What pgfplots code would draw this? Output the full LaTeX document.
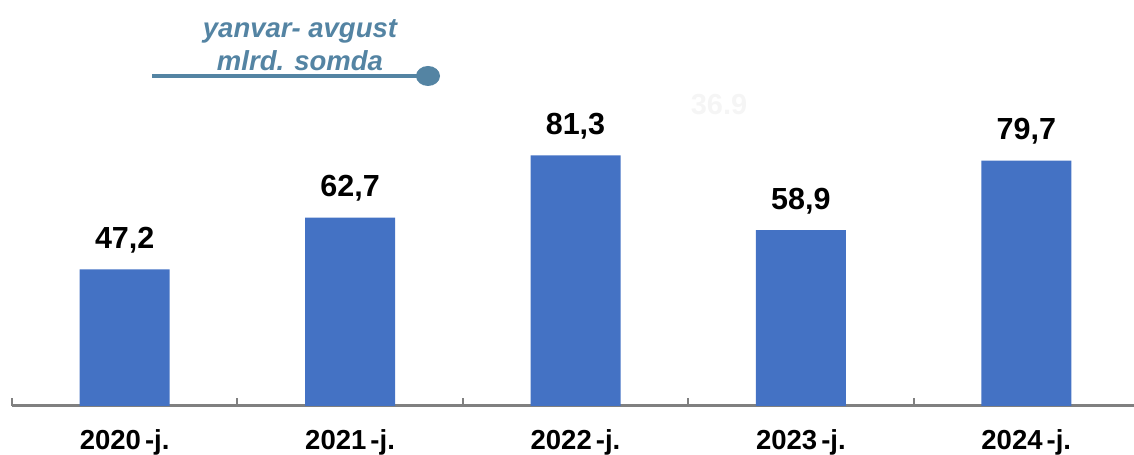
\documentclass[border=0pt]{standalone}
\usepackage{pgfplots}
\pgfplotsset{compat=1.18}
\usepackage{fontspec}
\setmainfont{Liberation Sans}
\definecolor{barblue}{HTML}{4472C4}
\definecolor{anno}{HTML}{5484A3}
\definecolor{axgray}{HTML}{808080}
\begin{document}
\begin{tikzpicture}[x=1bp,y=1bp]
\useasboundingbox (0,0) rectangle (1134,455);
\begin{axis}[
  at={(12bp,49bp)}, anchor=south west,
  scale only axis, width=1127bp, height=406bp,
  xmin=-0.5, xmax=4.5, ymin=6.3, ymax=127.8,
  axis x line*=bottom, axis y line=none,
  x axis line style={axgray, line width=3bp, -},
  xtick={0,1,2,3,4},
  xticklabels={2020\kern0.15em-j., 2021\kern0.15em-j., 2022\kern0.15em-j., 2023\kern0.15em-j., 2024\kern0.15em-j.},
  major tick length=0pt,
  extra x ticks={-0.5,0.5,1.5,2.5,3.5,4.5},
  extra x tick labels={},
  extra x tick style={major tick length=8bp, tick align=inside, tick style={axgray, line width=2bp}},
  xticklabel style={font=\bfseries\fontsize{27.5bp}{28bp}\selectfont, inner sep=0pt, anchor=north, yshift=-23bp},
  ybar, bar width=90bp,
  nodes near coords,
  point meta=explicit symbolic,
  nodes near coords style={font=\bfseries\fontsize{30.5bp}{31bp}\selectfont, anchor=south, inner sep=0pt, text depth=0pt, yshift=21bp, black},
  clip=false,
]
\addplot[fill=barblue, draw=none] coordinates {
  (0,47.2) [{47,2}]
  (1,62.7) [{62,7}]
  (2,81.3) [{81,3}]
  (3,58.9) [{58,9}]
  (4,79.7) [{79,7}]
};
\end{axis}
\node[anchor=base, text=black!4, font=\bfseries\fontsize{29bp}{30bp}\selectfont, inner sep=0pt] at (719,340) {36.9};
\node[anchor=base, text=anno, font=\bfseries\itshape\fontsize{27.5bp}{28bp}\selectfont, inner sep=0pt] at (300,417) {yanvar- avgust};
\node[anchor=base, text=anno, font=\bfseries\itshape\fontsize{27.5bp}{28bp}\selectfont, inner sep=0pt] at (300,384) {mlrd. somda};
\draw[anno, line width=3.5bp] (152,379) -- (428,379);
\fill[anno] (428,379) ellipse [x radius=12, y radius=10];
\end{tikzpicture}
\end{document}
